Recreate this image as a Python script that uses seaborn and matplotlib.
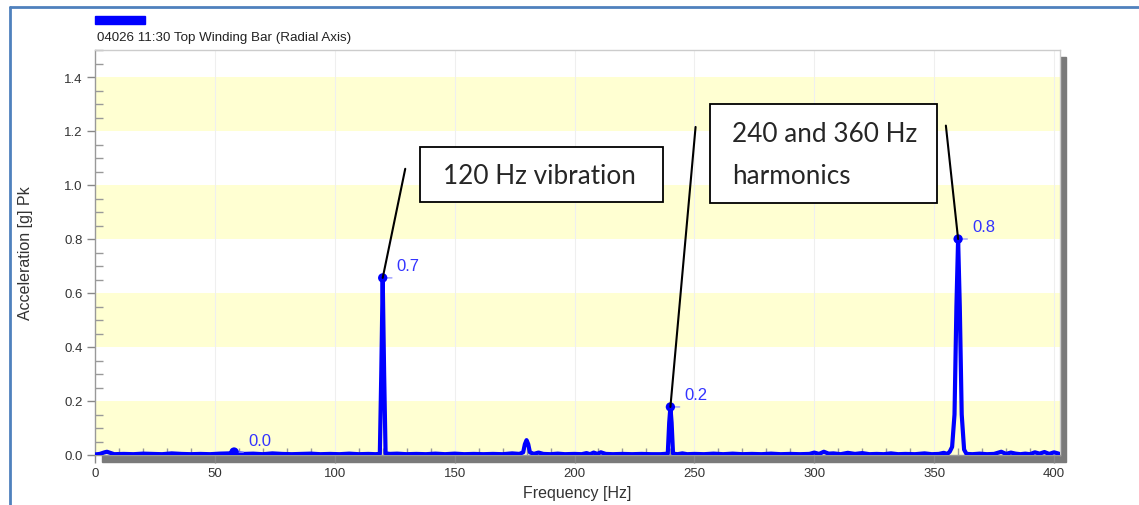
import matplotlib
matplotlib.use("Agg")
import matplotlib.pyplot as plt
import seaborn as sns
from matplotlib.patches import Rectangle
from matplotlib.lines import Line2D
from matplotlib.ticker import MultipleLocator

# spectrum (Hz, g)
freq_hz = [
    0, 2, 4, 5, 6, 8,
    12, 16, 20, 24, 28, 32, 36, 40, 44, 48, 52, 56,
    57.5, 59,
    62, 66, 70, 74, 78, 82, 86, 90, 94, 98, 102, 106, 110, 114, 117,
    118.8, 119.4, 120, 120.6, 121.2,
    123, 126, 130, 134, 138, 142, 146, 150, 154, 158, 162, 166, 170, 174, 177,
    178.6, 179.3, 180, 180.7, 181.4,
    183, 185, 187, 190, 193, 196, 200, 203, 205, 206.5, 208, 209.5, 211, 213, 216, 220, 224, 228, 232, 236,
    238.9, 239.5, 240, 240.5, 241.1,
    243, 245, 247, 250, 254, 258, 262, 266, 270, 274, 278, 282, 286, 290, 294, 298,
    300, 302, 304, 306, 308, 311, 314, 317, 320, 323, 326, 329, 332, 335, 338, 342, 346, 349, 352, 354, 355.5, 356.5,
    357.5, 358.5, 359.3, 360, 360.7, 361.5, 362.5, 363.5,
    366, 369, 372, 375, 378, 380, 382, 384, 386, 388, 390, 392, 394, 396, 398, 400, 402,
]
accel_g = [
    0.002, 0.004, 0.010, 0.012, 0.009, 0.003,
    0.004, 0.003, 0.005, 0.004, 0.003, 0.006, 0.004, 0.003, 0.004, 0.003, 0.005, 0.006,
    0.011, 0.009,
    0.004, 0.005, 0.003, 0.006, 0.004, 0.003, 0.004, 0.005, 0.003, 0.004, 0.003, 0.005, 0.003, 0.004, 0.003,
    0.004, 0.30, 0.656, 0.30, 0.006,
    0.004, 0.005, 0.003, 0.004, 0.003, 0.005, 0.003, 0.005, 0.003, 0.004, 0.003, 0.004, 0.003, 0.006, 0.004,
    0.010, 0.040, 0.055, 0.040, 0.010,
    0.004, 0.009, 0.004, 0.003, 0.005, 0.003, 0.004, 0.003, 0.007, 0.003, 0.009, 0.004, 0.010, 0.004, 0.003, 0.004, 0.003, 0.004, 0.003, 0.003,
    0.005, 0.12, 0.178, 0.12, 0.005,
    0.003, 0.006, 0.003, 0.004, 0.003, 0.005, 0.003, 0.005, 0.003, 0.004, 0.003, 0.005, 0.003, 0.004, 0.003, 0.004,
    0.009, 0.004, 0.012, 0.005, 0.006, 0.003, 0.008, 0.004, 0.007, 0.003, 0.004, 0.003, 0.006, 0.003, 0.004, 0.003, 0.006, 0.003, 0.004, 0.008, 0.004, 0.012,
    0.03, 0.15, 0.55, 0.80, 0.55, 0.15, 0.02, 0.004,
    0.003, 0.005, 0.003, 0.004, 0.012, 0.004, 0.009, 0.005, 0.003, 0.005, 0.003, 0.010, 0.005, 0.011, 0.004, 0.010, 0.005,
]
assert len(freq_hz) == len(accel_g)

# labelled peaks
peak_hz = [58, 120, 240, 360]
peak_g = [0.011, 0.656, 0.178, 0.80]
peak_labels = ["0.0", "0.7", "0.2", "0.8"]

W, H = 1139, 506
sns.set_style("white")
plt.rcParams["font.family"] = ["Liberation Sans", "DejaVu Sans"]

fig = plt.figure(figsize=(W / 100, H / 100), dpi=100)
ax = fig.add_axes([95 / W, 1 - 456 / H, (1060 - 95) / W, (456 - 51) / H])


def fx(px):
    return px / W


def fy(py):
    return 1 - py / H


# drop shadow behind the plot box
fig.add_artist(Rectangle((fx(102), fy(463)), (1066 - 102) / W, (463 - 58) / H,
                         transform=fig.transFigure, color="#7a7a7a", zorder=0))

# alternating yellow bands
for lo in [0.0, 0.4, 0.8, 1.2]:
    ax.axhspan(lo, lo + 0.2, color="#ffffd2", lw=0, zorder=0)
for x in range(50, 401, 50):
    ax.axvline(x, color="#efefef", lw=0.8, zorder=0.5)

sns.lineplot(x=freq_hz, y=accel_g, ax=ax, color="#0000ff", lw=3, zorder=3)
sns.scatterplot(x=peak_hz, y=peak_g, ax=ax, color="#0000ff", s=45, edgecolor="none", zorder=4)

for hz, g, lab in zip(peak_hz, peak_g, peak_labels):
    ax.annotate("", xy=(hz, g), xytext=(12, 0), textcoords="offset pixels",
                arrowprops=dict(arrowstyle="-", color="#9999ff", lw=1))
    ax.annotate(lab, xy=(hz, g), xytext=(14, 12), textcoords="offset pixels",
                color="#3333ff", fontsize=12, va="center", ha="left")

ax.set_xlim(0, 402.5)
ax.set_ylim(0, 1.5)
ax.xaxis.set_major_locator(MultipleLocator(50))
ax.xaxis.set_minor_locator(MultipleLocator(10))
ax.yaxis.set_major_locator(MultipleLocator(0.2))
ax.yaxis.set_minor_locator(MultipleLocator(0.05))
ax.set_yticks([0.0, 0.2, 0.4, 0.6, 0.8, 1.0, 1.2, 1.4])
ax.set_yticklabels(["0.0", "0.2", "0.4", "0.6", "0.8", "1.0", "1.2", "1.4"])
ax.tick_params(axis="both", which="major", direction="out", length=6, width=1,
               color="#888888", labelsize=9.5, labelcolor="#333333", bottom=True, left=True, pad=3)
ax.tick_params(axis="both", which="minor", direction="in", length=6, width=1,
               color="#999999", bottom=True, left=True)
ax.tick_params(axis="x", which="minor", length=5)

for side in ["top", "right"]:
    ax.spines[side].set_color("#cccccc")
ax.spines["left"].set_color("#999999")
ax.spines["bottom"].set_color("#999999")
for sp in ax.spines.values():
    sp.set_linewidth(1)

ax.set_xlabel("Frequency [Hz]", fontsize=11.5, color="#333333", labelpad=4)
ax.set_ylabel("Acceleration [g] Pk", fontsize=11.5, color="#333333", labelpad=22)

# header: series swatch and name
fig.add_artist(Rectangle((fx(95), fy(25)), 50 / W, 8 / H, transform=fig.transFigure,
                         color="#0000ff", zorder=5))
fig.text(fx(97), fy(38), "04026 11:30 Top Winding Bar (Radial Axis)", fontsize=9.6,
         color="#222222", va="center", ha="left")

# page frame lines
fig.add_artist(Line2D([fx(10), fx(10)], [fy(8), 0], transform=fig.transFigure,
                      color="#4f81bd", lw=2))
fig.add_artist(Line2D([fx(10), 1], [fy(8), fy(8)], transform=fig.transFigure,
                      color="#4f81bd", lw=2))

# callout boxes
callout_font = ["Lato", "DejaVu Sans"]
fig.add_artist(Rectangle((fx(420), fy(203)), (663 - 420) / W, (203 - 148) / H,
                         transform=fig.transFigure, facecolor="white", edgecolor="black", lw=1.3, zorder=6))
fig.text(fx(443), fy(176), "120 Hz vibration", fontsize=18.8, family=callout_font,
         va="center", ha="left", zorder=7)
fig.add_artist(Rectangle((fx(710), fy(204)), (937 - 710) / W, (204 - 105) / H,
                         transform=fig.transFigure, facecolor="white", edgecolor="black", lw=1.3, zorder=6))
fig.text(fx(732), fy(135), "240 and 360 Hz", fontsize=18.8, family=callout_font,
         va="center", ha="left", zorder=7)
fig.text(fx(732), fy(176), "harmonics", fontsize=18.8, family=callout_font,
         va="center", ha="left", zorder=7)

# leader lines from the boxes to the peaks
leader_tops = [(129.4, 1.06), (250.5, 1.215), (354.9, 1.22)]
for (tx, ty), hz, g in zip(leader_tops, peak_hz[1:], peak_g[1:]):
    ax.annotate("", xy=(hz, g), xytext=(tx, ty),
                arrowprops=dict(arrowstyle="-", color="black", lw=1.5, shrinkA=0, shrinkB=0),
                zorder=5)

fig.savefig("out.png", dpi=100)
